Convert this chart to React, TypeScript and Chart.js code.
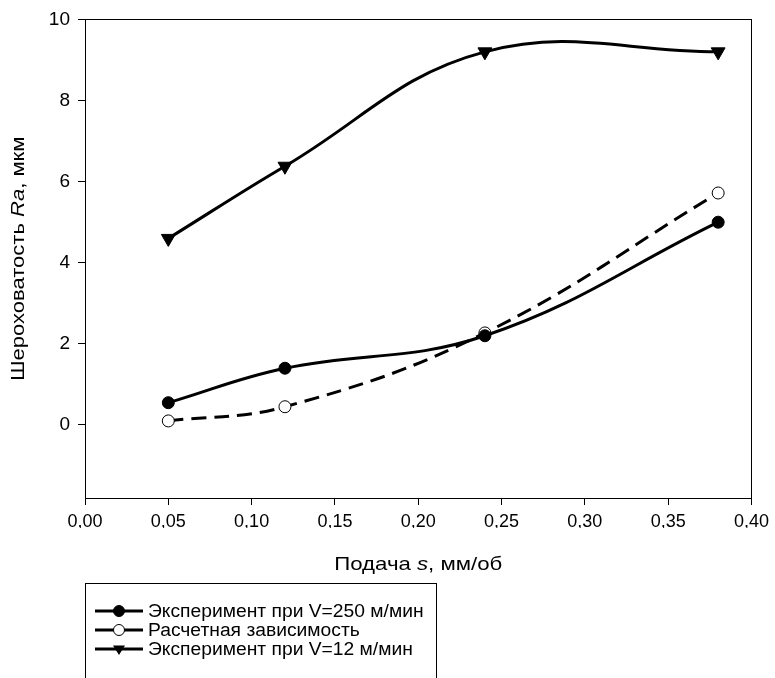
import React, { useEffect, useRef } from "react";
import { Chart, registerables } from "chart.js";

Chart.register(...registerables);

const feed = [0.05, 0.12, 0.24, 0.38];
const ra250 = [0.55, 1.4, 2.2, 5.0];
const raCalc = [0.1, 0.45, 2.27, 5.72];
const ra12 = [4.6, 6.38, 9.2, 9.2];
const yTicks = [0, 2, 4, 6, 8, 10];
const xTicks = [0, 0.05, 0.1, 0.15, 0.2, 0.25, 0.3, 0.35, 0.4];
const seriesNames = [
  "Эксперимент при V=250 м/мин",
  "Расчетная зависимость",
  "Эксперимент при V=12 м/мин",
];

const FONT = "Arial, 'Liberation Sans', sans-serif";

function drawMixed(ctx: CanvasRenderingContext2D, parts: [string, boolean][], cx: number, cy: number, size: number, sx: number) {
  const widths = parts.map(([t, it]) => {
    ctx.font = `${it ? "italic " : ""}${size}px ${FONT}`;
    return ctx.measureText(t).width;
  });
  const total = widths.reduce((a, b) => a + b, 0);
  ctx.save();
  ctx.translate(cx, cy);
  ctx.scale(sx, 1);
  let x = -total / 2;
  ctx.textBaseline = "middle";
  ctx.textAlign = "left";
  parts.forEach(([t, it], i) => {
    ctx.font = `${it ? "italic " : ""}${size}px ${FONT}`;
    ctx.fillText(t, x, 0);
    x += widths[i];
  });
  ctx.restore();
}

const decorPlugin = {
  id: "decor",
  afterDraw(chart: any) {
    const ctx: CanvasRenderingContext2D = chart.ctx;
    const a = chart.chartArea;
    ctx.save();
    ctx.strokeStyle = "#000";
    ctx.lineWidth = 1;
    ctx.strokeRect(Math.round(a.left) + 0.5, Math.round(a.top) + 0.5, Math.round(a.right - a.left), Math.round(a.bottom - a.top));
    ctx.fillStyle = "#000";
    drawMixed(ctx, [["Подача ", false], ["s", true], [", мм/об", false]], (a.left + a.right) / 2, 565, 19, 1.17);
    ctx.save();
    ctx.translate(19, (a.top + a.bottom) / 2);
    ctx.rotate(-Math.PI / 2);
    drawMixed(ctx, [["Шероховатость ", false], ["Ra", true], [", мкм", false]], 0, 0, 19, 1.16);
    ctx.restore();

    // legend box
    ctx.strokeRect(85.5, 583.5, 351, 120);
    const rows = [611, 630, 649];
    chart.data.datasets.forEach((ds: any, i: number) => {
      const y = rows[i];
      ctx.beginPath();
      ctx.lineWidth = 3;
      ctx.setLineDash([]);
      ctx.moveTo(95, y);
      ctx.lineTo(143, y);
      ctx.stroke();
      ctx.lineWidth = 1;
      const mx = 119;
      if (ds.pointStyle === "triangle") {
        const r = 6;
        ctx.beginPath();
        ctx.moveTo(mx - r, y - r * 0.6);
        ctx.lineTo(mx + r, y - r * 0.6);
        ctx.lineTo(mx, y + r);
        ctx.closePath();
        ctx.fillStyle = "#000";
        ctx.fill();
      } else {
        ctx.beginPath();
        ctx.arc(mx, y, 5.5, 0, Math.PI * 2);
        ctx.fillStyle = ds.pointBackgroundColor;
        ctx.fill();
        ctx.stroke();
      }
      ctx.fillStyle = "#000";
      ctx.save();
      ctx.translate(148, y + 1);
      ctx.scale(1.07, 1);
      ctx.font = `18px ${FONT}`;
      ctx.textBaseline = "middle";
      ctx.textAlign = "left";
      ctx.fillText(ds.label, 0, 0);
      ctx.restore();
    });
    ctx.restore();
  },
};

export default function App() {
  const ref = useRef<HTMLCanvasElement>(null);
  useEffect(() => {
    document.body.style.margin = "0";
    const mk = (ys: number[]) => feed.map((x, i) => ({ x, y: ys[i] }));
    const chart = new Chart(ref.current!, {
      type: "line",
      data: {
        datasets: [
          {
            label: seriesNames[0],
            data: mk(ra250),
            borderColor: "#000",
            borderWidth: 3,
            tension: 0.4,
            pointStyle: "circle",
            pointRadius: 6,
            pointBackgroundColor: "#000",
            pointBorderColor: "#000",
            pointBorderWidth: 1,
          },
          {
            label: seriesNames[1],
            data: mk(raCalc),
            borderColor: "#000",
            borderWidth: 3,
            borderDash: [15, 8],
            tension: 0.4,
            pointStyle: "circle",
            pointRadius: 6,
            pointBackgroundColor: "#fff",
            pointBorderColor: "#000",
            pointBorderWidth: 1,
          },
          {
            label: seriesNames[2],
            data: mk(ra12),
            borderColor: "#000",
            borderWidth: 3,
            tension: 0.4,
            pointStyle: "triangle",
            pointRotation: 180,
            pointRadius: 8,
            pointBackgroundColor: "#000",
            pointBorderColor: "#000",
            pointBorderWidth: 1,
          },
        ],
      },
      options: {
        responsive: false,
        animation: false,
        layout: { padding: { left: 0, top: 16, right: 21, bottom: 150 } },
        plugins: { legend: { display: false }, tooltip: { enabled: false } },
        scales: {
          x: {
            type: "linear",
            min: 0,
            max: 0.4,
            afterBuildTicks: (s: any) => {
              s.ticks = xTicks.map((v) => ({ value: v }));
            },
            afterFit: (s: any) => {
              s.height = 30;
            },
            ticks: {
              color: "#000",
              font: { family: FONT, size: 18 },
              padding: 6,
              maxRotation: 0,
              autoSkip: false,
              callback: (v: any) => Number(v).toFixed(2).replace(".", ","),
            },
            grid: { drawOnChartArea: false, tickLength: 7, color: "#000", lineWidth: 1 },
            border: { display: true, color: "#000", width: 1 },
          },
          y: {
            type: "linear",
            min: -1.8,
            max: 10,
            afterBuildTicks: (s: any) => {
              s.ticks = yTicks.map((v) => ({ value: v }));
            },
            afterFit: (s: any) => {
              s.width = 85;
            },
            ticks: {
              color: "#000",
              font: { family: FONT, size: 19 },
              padding: 8,
              autoSkip: false,
              callback: (v: any) => String(v),
            },
            grid: { drawOnChartArea: false, tickLength: 7, color: "#000", lineWidth: 1 },
            border: { display: true, color: "#000", width: 1 },
          },
        },
      },
      plugins: [decorPlugin],
    } as any);
    return () => chart.destroy();
  }, []);
  return (
    <div style={{ width: 775, height: 678 }}>
      <canvas ref={ref} width={775} height={678} />
    </div>
  );
}
